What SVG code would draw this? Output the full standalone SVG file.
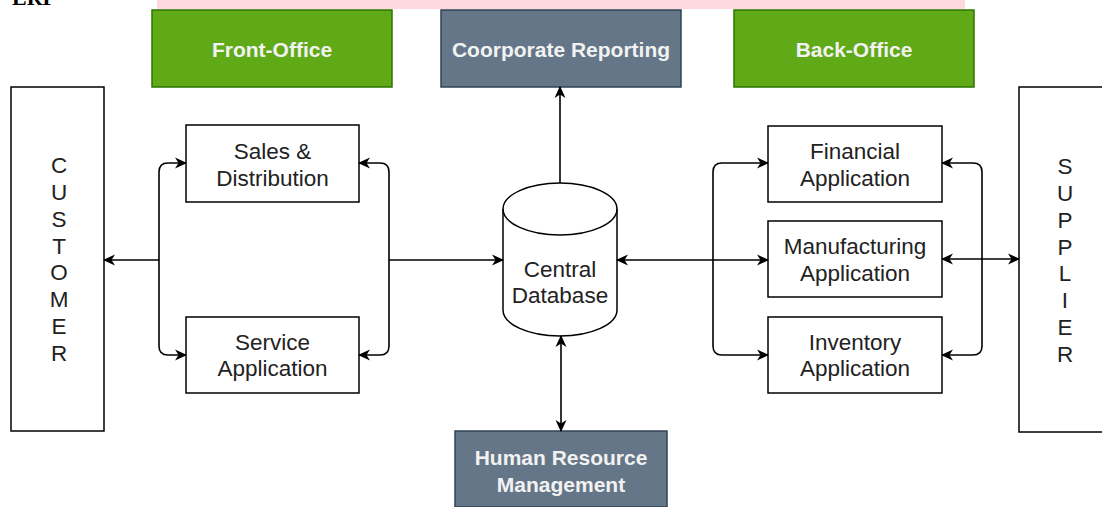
<svg xmlns="http://www.w3.org/2000/svg" width="1102" height="507" viewBox="0 0 1102 507">
<defs>
<marker id="arr" viewBox="0 0 12 12" refX="11" refY="6" markerWidth="12" markerHeight="12" markerUnits="userSpaceOnUse" orient="auto-start-reverse">
<path d="M0,0.5 L12,6 L0,11.5 L3.5,6 Z" fill="#000"/>
</marker>
<style>
.lbl{font-family:"Liberation Sans",Arial,sans-serif;font-size:22.5px;fill:#222;text-anchor:middle}
.wlbl{font-family:"Liberation Sans",Arial,sans-serif;font-size:21px;font-weight:bold;fill:#f2f2f2;text-anchor:middle}
.box{fill:#fff;stroke:#000;stroke-width:1.5}
.green{fill:#60a917;stroke:#2d7600;stroke-width:1.5}
.gray{fill:#647687;stroke:#314354;stroke-width:1.5}
.c{fill:none;stroke:#000;stroke-width:1.6}
.ab{marker-start:url(#arr);marker-end:url(#arr)}
.ae{marker-end:url(#arr)}
</style>
</defs>
<rect width="1102" height="507" fill="#fff"/>
<rect x="157" y="0" width="808" height="9" fill="#fdd8dc"/>
<text x="12" y="5" font-family="'Liberation Serif',serif" font-weight="bold" font-size="22" fill="#000">ERP</text>

<g id="front-office"><rect class="green" x="152" y="10" width="240" height="77"/><text class="wlbl" x="272" y="57">Front-Office</text></g>
<g id="corporate-reporting"><rect class="gray" x="441" y="10" width="240" height="77"/><text class="wlbl" x="561" y="57">Coorporate Reporting</text></g>
<g id="back-office"><rect class="green" x="734" y="10" width="240" height="77"/><text class="wlbl" x="854" y="57">Back-Office</text></g>

<g id="customer"><rect class="box" x="11" y="87" width="93" height="344"/>
<text class="lbl" x="59" y="173">C</text><text class="lbl" x="59" y="200">U</text><text class="lbl" x="59" y="227">S</text><text class="lbl" x="59" y="254">T</text><text class="lbl" x="59" y="280">O</text><text class="lbl" x="59" y="307">M</text><text class="lbl" x="59" y="334">E</text><text class="lbl" x="59" y="361">R</text></g>

<g id="supplier"><rect class="box" x="1019" y="87" width="95" height="345"/>
<text class="lbl" x="1065" y="174">S</text><text class="lbl" x="1065" y="201">U</text><text class="lbl" x="1065" y="228">P</text><text class="lbl" x="1065" y="255">P</text><text class="lbl" x="1065" y="281">L</text><text class="lbl" x="1065" y="308">I</text><text class="lbl" x="1065" y="335">E</text><text class="lbl" x="1065" y="362">R</text></g>

<g id="sales"><rect class="box" x="186" y="125" width="173" height="77"/><text class="lbl" x="272.5" y="159">Sales &amp;</text><text class="lbl" x="272.5" y="186">Distribution</text></g>
<g id="service"><rect class="box" x="186" y="317" width="173" height="76"/><text class="lbl" x="272.5" y="350">Service</text><text class="lbl" x="272.5" y="376">Application</text></g>

<g id="financial"><rect class="box" x="768" y="126" width="174" height="76"/><text class="lbl" x="855" y="159">Financial</text><text class="lbl" x="855" y="186">Application</text></g>
<g id="manufacturing"><rect class="box" x="768" y="221" width="174" height="76"/><text class="lbl" x="855" y="254">Manufacturing</text><text class="lbl" x="855" y="281">Application</text></g>
<g id="inventory"><rect class="box" x="768" y="317" width="174" height="76"/><text class="lbl" x="855" y="350">Inventory</text><text class="lbl" x="855" y="376">Application</text></g>

<g id="central-database">
<path d="M503 209 A57 26 0 0 1 617 209 V310 A57 26 0 0 1 503 310 Z" fill="#fff" stroke="#000" stroke-width="1.5"/>
<path d="M503 209 A57 26 0 0 0 617 209" fill="none" stroke="#000" stroke-width="1.5"/>
<text class="lbl" x="560" y="277">Central</text><text class="lbl" x="560" y="303">Database</text>
</g>

<g id="hr"><rect class="gray" x="455" y="431" width="212" height="76"/><text class="wlbl" x="561" y="465">Human Resource</text><text class="wlbl" x="561" y="492">Management</text></g>

<g id="connectors">
<path class="c ab" d="M186 163 H168 Q159 163 159 172 V346 Q159 355 168 355 H186"/>
<path class="c ae" d="M159 260 H104"/>
<path class="c ab" d="M359 163 H380 Q389 163 389 172 V346 Q389 355 380 355 H359"/>
<path class="c ae" d="M389 260 H503"/>
<path class="c ae" d="M560 183 V87"/>
<path class="c ab" d="M561 336 V431"/>
<path class="c ab" d="M617 260 H768"/>
<path class="c ab" d="M768 163 H722 Q713 163 713 172 V346 Q713 355 722 355 H768"/>
<path class="c ab" d="M942 163 H973 Q982 163 982 172 V346 Q982 355 973 355 H942"/>
<path class="c ab" d="M942 259 H1019"/>
</g>
</svg>
